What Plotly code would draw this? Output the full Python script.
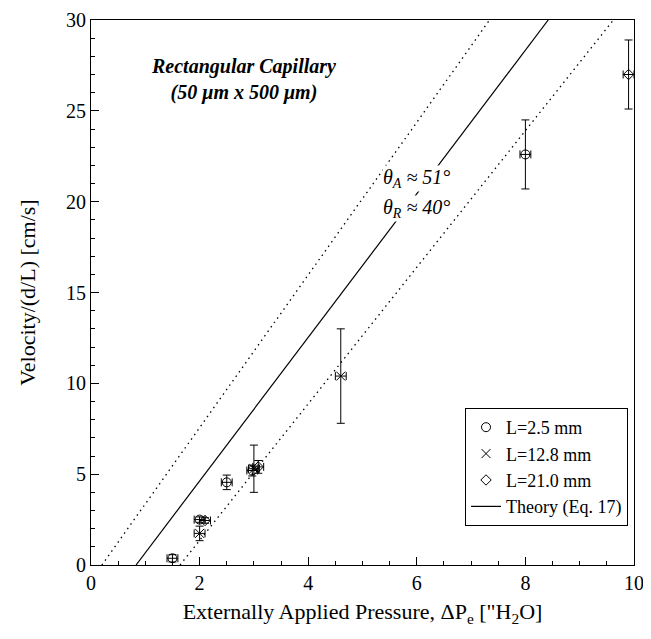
import plotly.graph_objects as go

# L = 2.5 mm (circles)
c_x = [1.5, 2.0, 2.5, 2.97, 8.0]
c_y = [0.37, 2.5, 4.55, 5.2, 22.6]
c_ey = [0.2, 0.15, 0.4, 0.3, 1.9]

# L = 12.8 mm (crosses)
x_x = [2.0, 3.0, 4.6]
x_y = [1.74, 5.3, 10.4]
x_ey = [0.4, 1.3, 2.6]

# L = 21.0 mm (diamonds)
d_x = [2.1, 3.08, 9.9]
d_y = [2.45, 5.4, 27.0]
d_ey = [0.15, 0.35, 1.9]

ex = 0.1

# Theory lines (endpoints)
th_x = [0.83, 8.42]
th_y = [0, 30]
dl_x = [0.2, 7.34]
dl_y = [0, 30]
dr_x = [1.64, 9.62]
dr_y = [0, 30]

FONT = "Liberation Serif"
fig = go.Figure()

fig.add_trace(go.Scatter(x=dl_x, y=dl_y, mode="lines", showlegend=False,
                         line=dict(color="black", width=1.3, dash="1.5px,4px")))
fig.add_trace(go.Scatter(x=dr_x, y=dr_y, mode="lines", showlegend=False,
                         line=dict(color="black", width=1.3, dash="1.5px,4px")))

def eb(vals):
    return dict(type="data", array=vals, color="black", thickness=1, width=4)

fig.add_trace(go.Scatter(x=th_x, y=th_y, mode="lines", name="Theory (Eq. 17)",
                         line=dict(color="black", width=1.2), legendrank=4))
fig.add_trace(go.Scatter(x=c_x, y=c_y, mode="markers", name="L=2.5 mm", legendrank=1,
                         marker=dict(symbol="circle-open", size=9, color="black", line=dict(width=1)),
                         error_y=eb(c_ey), error_x=eb([ex]*len(c_x))))
fig.add_trace(go.Scatter(x=x_x, y=x_y, mode="markers", name="L=12.8 mm", legendrank=2,
                         marker=dict(symbol="x-thin-open", size=9, color="black", line=dict(width=1, color="black")),
                         error_y=eb(x_ey), error_x=eb([ex]*len(x_x))))
fig.add_trace(go.Scatter(x=d_x, y=d_y, mode="markers", name="L=21.0 mm", legendrank=3,
                         marker=dict(symbol="diamond-open", size=8, color="black", line=dict(width=1)),
                         error_y=eb(d_ey), error_x=eb([ex]*len(d_x))))

fig.add_annotation(x=2.8, y=26.75, xref="x", yref="y", showarrow=False,
                   text="<b><i>Rectangular Capillary<br>(50 μm x 500 μm)</i></b>",
                   font=dict(family=FONT, size=20, color="black"))
fig.add_annotation(x=6.0, y=21.3, xref="x", yref="y", showarrow=False,
                   text="<i>θ<sub>A</sub> ≈ 51°</i>", bgcolor="white", borderpad=0,
                   font=dict(family=FONT, size=20, color="black"))
fig.add_annotation(x=6.0, y=19.65, xref="x", yref="y", showarrow=False,
                   text="<i>θ<sub>R</sub> ≈ 40°</i>", bgcolor="white", borderpad=0,
                   font=dict(family=FONT, size=20, color="black"))

# page body has an 8px margin, so the figure is sized to fit the 651x639 window
fig.update_layout(
    width=643, height=631,
    margin=dict(l=83, r=17, t=12, b=74),
    plot_bgcolor="white", paper_bgcolor="white",
    font=dict(family=FONT, size=16, color="black"),
    legend=dict(x=0.989, y=0.0716, xanchor="right", yanchor="bottom",
                bgcolor="white", bordercolor="black", borderwidth=1,
                font=dict(family=FONT, size=18), tracegroupgap=0),
)
fig.update_xaxes(range=[0, 10], tickvals=[0, 2, 4, 6, 8, 10],
                 ticks="inside", ticklen=8, tickcolor="black",
                 minor=dict(dtick=0.5, ticks="inside", ticklen=4, tickcolor="black"),
                 showline=True, linecolor="black", linewidth=1, mirror=True,
                 showgrid=False, zeroline=False, automargin=False,
                 tickfont=dict(family=FONT, size=20),
                 title=dict(text="Externally Applied Pressure, ΔP<sub>e</sub> [\"H<sub>2</sub>O]",
                            font=dict(family=FONT, size=22), standoff=10))
fig.update_yaxes(range=[0, 30], tickvals=[0, 5, 10, 15, 20, 25, 30],
                 ticks="inside", ticklen=8, tickcolor="black",
                 minor=dict(dtick=1, ticks="inside", ticklen=4, tickcolor="black"),
                 showline=True, linecolor="black", linewidth=1, mirror=True,
                 showgrid=False, zeroline=False, automargin=False,
                 tickfont=dict(family=FONT, size=20),
                 title=dict(text="Velocity/(d/L) [cm/s]",
                            font=dict(family=FONT, size=22), standoff=24))

fig.write_html("out.html")
